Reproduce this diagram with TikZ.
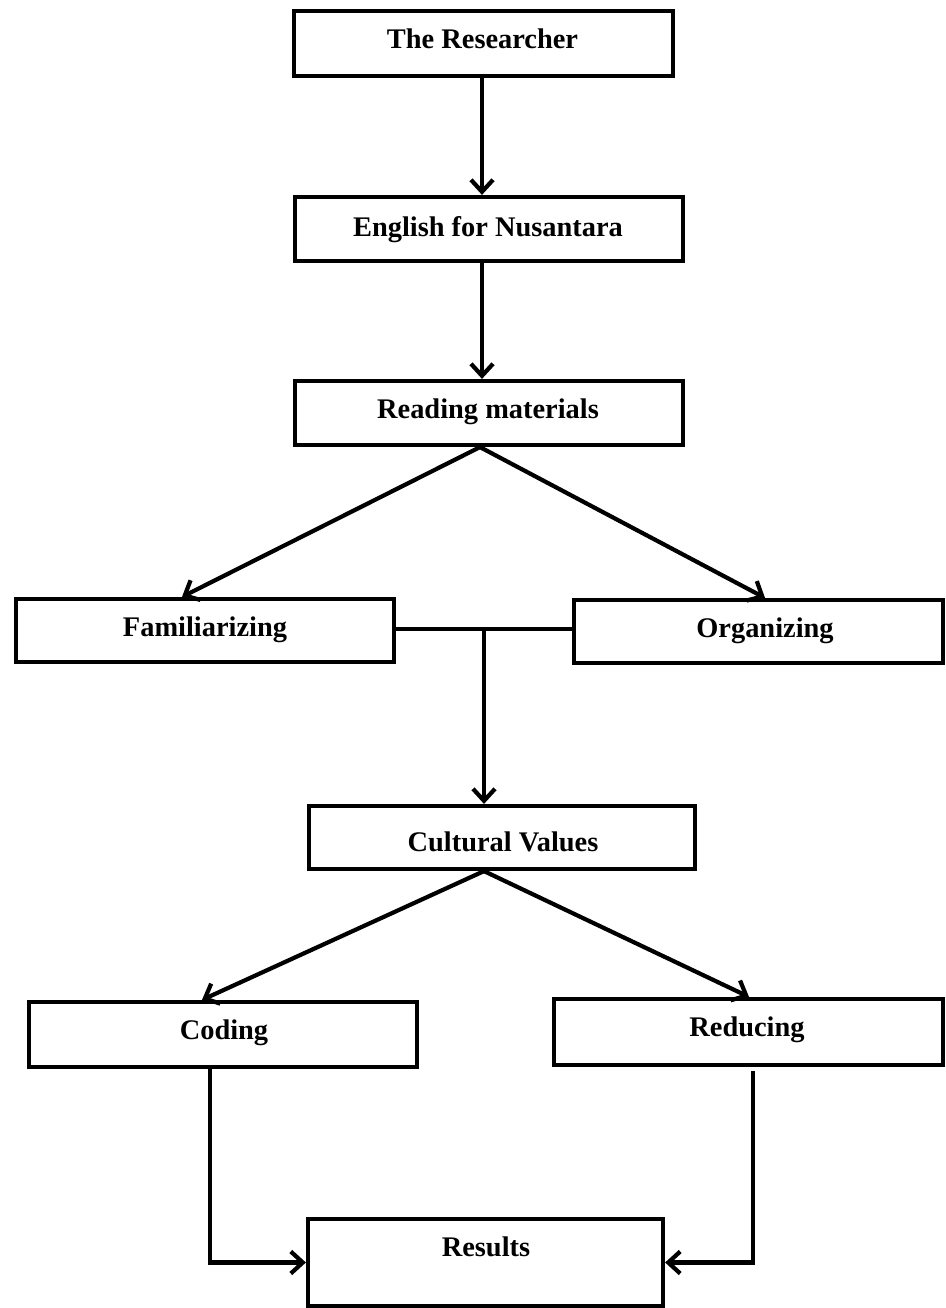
\documentclass[tikz,border=0pt]{standalone}
\usepackage{fontspec}
\setmainfont{Liberation Serif}
\usetikzlibrary{arrows.meta}
\begin{document}
\begin{tikzpicture}[x=1pt,y=-1pt,
  box/.style={draw=black,line width=4.2pt,rectangle,inner sep=0pt,fill=white},
  txt/.style={inner sep=0pt,font=\fontsize{28.4}{30}\selectfont\bfseries,text height=18.8pt,text depth=0pt,anchor=center},
  conn/.style={line width=4.2pt,draw=black},
  arr/.style={conn,-{Straight Barb[length=12pt,width=22pt]}}]
\useasboundingbox (0,0) rectangle (945,1308);
% boxes
\node[box,minimum width=379pt,minimum height=65pt] (r1) at (483.5,43.5) {};
\node[box,minimum width=388pt,minimum height=64pt] (r2) at (489,229) {};
\node[box,minimum width=388pt,minimum height=64pt] (r3) at (489,413) {};
\node[box,minimum width=378pt,minimum height=63pt] (fam) at (205,630.5) {};
\node[box,minimum width=369pt,minimum height=63pt] (org) at (758.5,631.5) {};
\node[box,minimum width=386pt,minimum height=63pt] (cult) at (502,837.5) {};
\node[box,minimum width=388pt,minimum height=65pt] (cod) at (223,1034.5) {};
\node[box,minimum width=389pt,minimum height=66pt] (red) at (748.5,1032) {};
\node[box,minimum width=355pt,minimum height=87pt] (res) at (485.5,1262.5) {};
% texts
\node[txt] (t1) at (482.5,39) {The Researcher};
\node[txt] (t2) at (488,227) {English for Nusantara};
\node[txt] (t3) at (488,409) {Reading materials};
\node[txt] (t4) at (205,627) {Familiarizing};
\node[txt] (t5) at (765,628) {Organizing};
\node[txt] (t6) at (503,842) {Cultural Values};
\node[txt] (t7) at (224,1030) {Coding};
\node[txt] (t8) at (747,1027) {Reducing};
\node[txt] (t9) at (486,1247) {Results};
% helper coordinates
\coordinate (xa) at (482,0);
\coordinate (xs) at (480,0);
\coordinate (xfl) at (182,0);
\coordinate (xor) at (765,0);
\coordinate (j) at (484,629);
\coordinate (xc) at (484,0);
\coordinate (xcl) at (202,0);
\coordinate (xcr) at (749,0);
\coordinate (xL) at (210,0);
\coordinate (xR) at (753,0);
% connectors
\draw[arr] (r1.south -| xa) -- (r2.north -| xa);
\draw[arr] (r2.south -| xa) -- (r3.north -| xa);
\draw[arr] (r3.south -| xs) -- (fam.north -| xfl);
\draw[arr] (r3.south -| xs) -- (org.north -| xor);
\draw[conn] (fam.east |- j) -- (org.west |- j);
\draw[arr] (j) -- (cult.north -| j);
\draw[arr] (cult.south -| xc) -- (cod.north -| xcl);
\draw[arr] (cult.south -| xc) -- (red.north -| xcr);
\draw[arr] (cod.south -| xL) |- (res.west);
\draw[arr,shorten <=4pt] (red.south -| xR) |- (res.east);
\end{tikzpicture}
\end{document}
